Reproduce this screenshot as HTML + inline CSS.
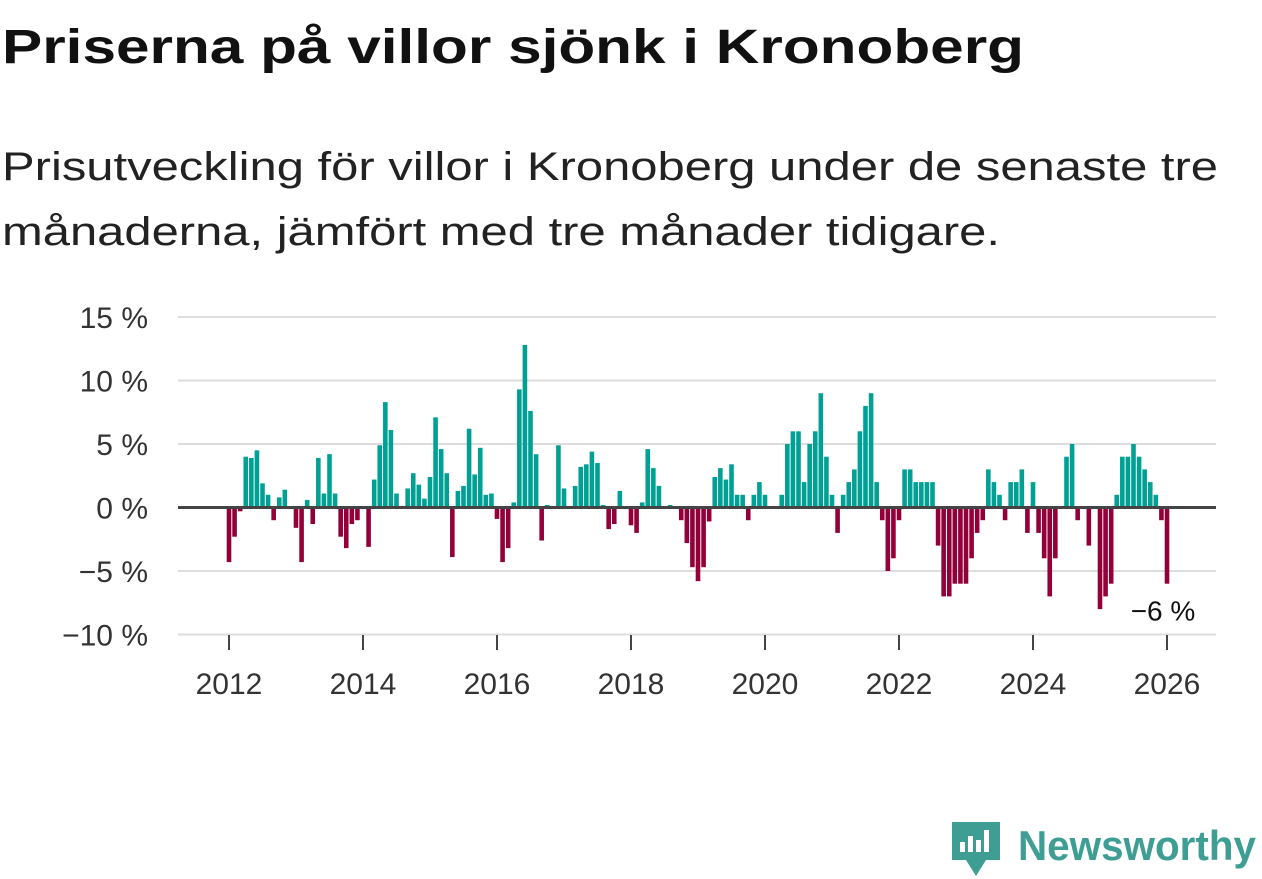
<!DOCTYPE html>
<html><head><meta charset="utf-8"><style>
html,body{margin:0;padding:0;background:#fff;}
svg{display:block;font-family:"Liberation Sans",sans-serif;}
</style></head><body>
<svg id="chart" width="1262" height="879" viewBox="0 0 1262 879" xmlns="http://www.w3.org/2000/svg">
<text x="2" y="63" font-size="48" font-weight="bold" fill="#111" textLength="1022" lengthAdjust="spacingAndGlyphs">Priserna på villor sjönk i Kronoberg</text>
<text x="2" y="180" font-size="40" fill="#222" textLength="1216" lengthAdjust="spacingAndGlyphs">Prisutveckling för villor i Kronoberg under de senaste tre</text>
<text x="2" y="245" font-size="40" fill="#222" textLength="998" lengthAdjust="spacingAndGlyphs">månaderna, jämfört med tre månader tidigare.</text>
<g id="grid"></g>
<g id="yticks"></g>
<g id="bars"></g>
<line id="zero" stroke="#444" stroke-width="3"/>
<g id="xticks"></g>
<text id="lastlabel" font-size="28" fill="#111" text-anchor="middle">−6 %</text>
<g>
<path d="M952 822 h48 v38 h-14 l-10 16 l-10 -16 h-14 z" fill="#3e9e93"/>
<rect x="960" y="842" width="5" height="10" fill="#fff"/>
<rect x="968" y="836" width="5" height="16" fill="#fff"/>
<rect x="976" y="840" width="5" height="12" fill="#fff"/>
<rect x="984" y="830" width="5" height="22" fill="#fff"/>
<text x="1018" y="860" font-size="42" font-weight="bold" fill="#3e9e93" textLength="238" lengthAdjust="spacingAndGlyphs">Newsworthy</text>
</g>
</svg>
<script>
const yTicks=[15,10,5,0,-5,-10];
const xTickYears=[2012,2014,2016,2018,2020,2022,2024,2026];
const startYear=2012;
const values=[
-4.3,-2.3,-0.3,4.0,3.9,4.5,1.9,1.0,-1.0,0.8,1.4,0,
-1.6,-4.3,0.6,-1.3,3.9,1.1,4.2,1.1,-2.3,-3.2,-1.3,-1.0,
0,-3.1,2.2,4.9,8.3,6.1,1.1,0,1.5,2.7,1.8,0.7,
2.4,7.1,4.6,2.7,-3.9,1.3,1.7,6.2,2.6,4.7,1.0,1.1,
-0.9,-4.3,-3.2,0.4,9.3,12.8,7.6,4.2,-2.6,0.2,0,4.9,
1.5,0,1.7,3.2,3.4,4.4,3.5,0.2,-1.7,-1.3,1.3,0,
-1.4,-2.0,0.4,4.6,3.1,1.7,0,0.2,0,-1.0,-2.8,-4.7,
-5.8,-4.7,-1.1,2.4,3.1,2.2,3.4,1.0,1.0,-1.0,1.0,2.0,
1.0,0,0,1.0,5.0,6.0,6.0,2.0,5.0,6.0,9.0,4.0,
1.0,-2.0,1.0,2.0,3.0,6.0,8.0,9.0,2.0,-1.0,-5.0,-4.0,
-1.0,3.0,3.0,2.0,2.0,2.0,2.0,-3.0,-7.0,-7.0,-6.0,-6.0,
-6.0,-4.0,-2.0,-1.0,3.0,2.0,1.0,-1.0,2.0,2.0,3.0,-2.0,
2.0,-2.0,-4.0,-7.0,-4.0,0,4.0,5.0,-1.0,0,-3.0,0,
-8.0,-7.0,-6.0,1.0,4.0,4.0,5.0,4.0,3.0,2.0,1.0,-1.0,
-6.0];
const NS="http://www.w3.org/2000/svg";
const x0=178,x1=1216,y0=507.5,pxPerPct=12.7;
const xYear=y=>229+(y-startYear)*67;
const xMonth=i=>xYear(startYear+i/12);
const yv=v=>y0-v*pxPerPct;
function mk(tag,attrs,parent){const e=document.createElementNS(NS,tag);for(const k in attrs)e.setAttribute(k,attrs[k]);parent.appendChild(e);return e;}
const grid=document.getElementById('grid'),yt=document.getElementById('yticks');
yTicks.forEach(t=>{
 const l=mk('line',{x1:x0,x2:x1,y1:yv(t),y2:yv(t),stroke:'#ddd','stroke-width':2},grid);
 
 
 const tx=mk('text',{x:148,y:yv(t)+11,'font-size':30,fill:'#333','text-anchor':'end'},yt);
 tx.textContent=(t<0?'−'+(-t):t)+' %';
 
 
});
const bars=document.getElementById('bars');
values.forEach((v,i)=>{
 const x=xMonth(i);
 const r=mk('rect',{x:x-2.3,width:4.6,y:Math.min(yv(v),y0),height:Math.abs(yv(v)-y0),fill:v>=0?'#00a195':'#930039'},bars);
 
 
});
const z=document.getElementById('zero');
z.setAttribute('x1',x0);z.setAttribute('x2',x1);z.setAttribute('y1',y0);z.setAttribute('y2',y0);
const xt=document.getElementById('xticks');
xTickYears.forEach(y=>{
 const x=xYear(y);
 const tk=mk('line',{x1:x,x2:x,y1:635,y2:650,stroke:'#444','stroke-width':2},xt);
 
 
 const tx=mk('text',{x:x,y:694,'font-size':30,fill:'#333','text-anchor':'middle'},xt);
 tx.textContent=y;
 
 
});
const last=values[values.length-1];
const ll=document.getElementById('lastlabel');
ll.setAttribute('x',xMonth(values.length-1)-4);
ll.setAttribute('y',yv(last)+37);
ll.textContent=(last<0?'−'+(-last):last)+' %';
</script>
</body></html>
